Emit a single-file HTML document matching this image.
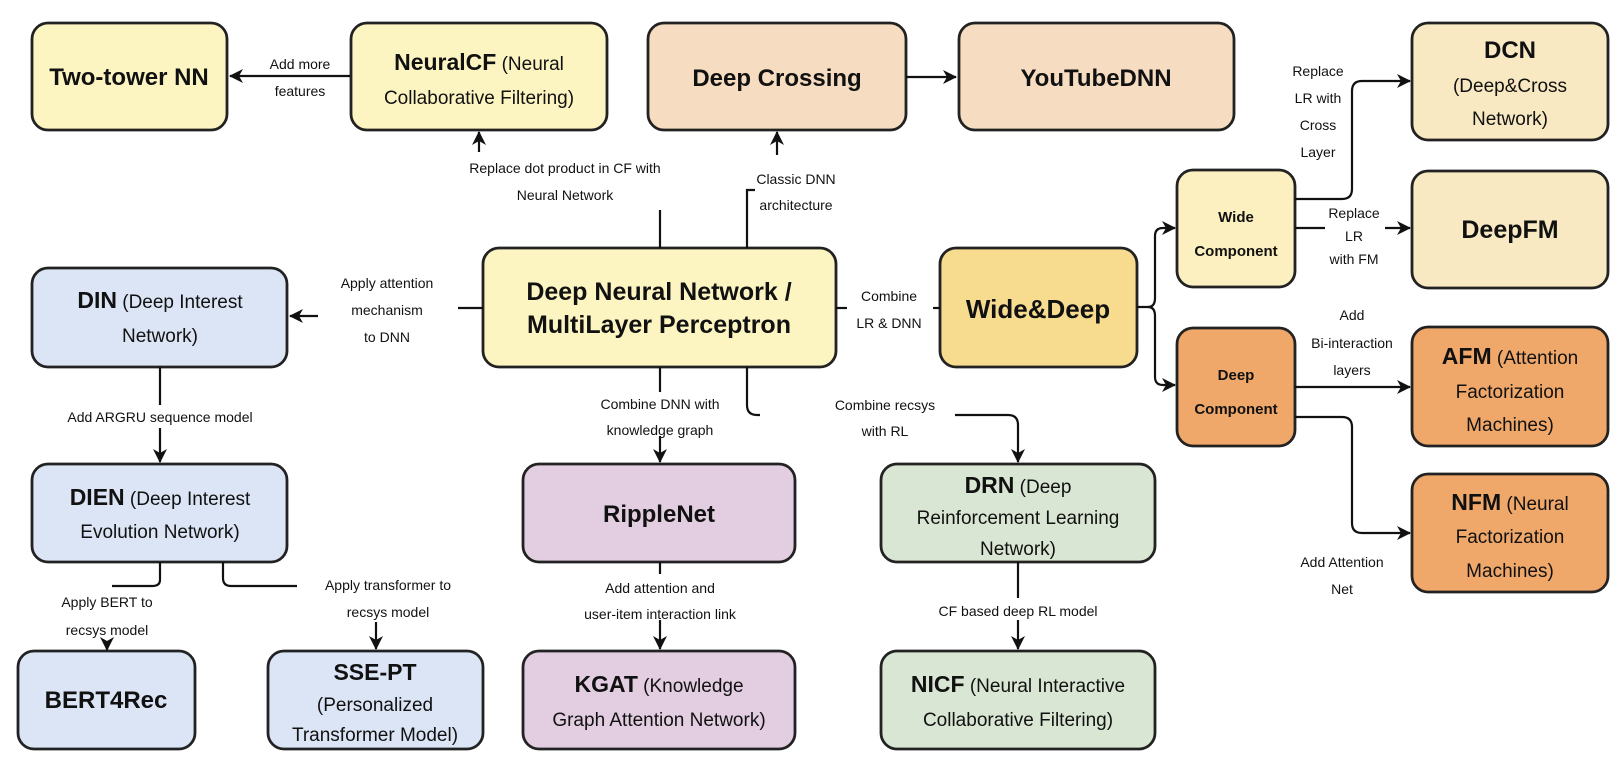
<!DOCTYPE html>
<html><head><meta charset="utf-8"><style>
html,body{margin:0;padding:0;background:#fff;}
svg{display:block;}
text{font-family:"Liberation Sans",sans-serif;fill:#111;}
.b{font-weight:bold;}
.lb{font-size:14px;}
.bx{stroke:#222;stroke-width:2.8;}
.ln{stroke:#111;stroke-width:2.2;fill:none;}
</style></head><body>
<svg width="1621" height="768" viewBox="0 0 1621 768" xmlns="http://www.w3.org/2000/svg">
<defs>
<marker id="a" markerWidth="14" markerHeight="14" refX="13" refY="7" orient="auto" markerUnits="userSpaceOnUse">
<path d="M0,0 L14,7 L0,14 L4,7 Z" fill="#111"/></marker>
</defs>
<rect class="bx" x="32" y="23" width="195" height="107" rx="16" fill="#fcf5c2"/>
<rect class="bx" x="351" y="23" width="256" height="107" rx="16" fill="#fcf5c2"/>
<rect class="bx" x="648" y="23" width="258" height="107" rx="16" fill="#f6dcc0"/>
<rect class="bx" x="959" y="23" width="275" height="107" rx="16" fill="#f6dcc0"/>
<rect class="bx" x="1412" y="23" width="196" height="117" rx="16" fill="#f8e9c2"/>
<rect class="bx" x="1177" y="170" width="118" height="117" rx="16" fill="#fcf0c0"/>
<rect class="bx" x="1412" y="171" width="196" height="117" rx="16" fill="#f8e9c2"/>
<rect class="bx" x="483" y="248" width="353" height="119" rx="16" fill="#fcf5c2"/>
<rect class="bx" x="940" y="248" width="197" height="119" rx="16" fill="#f7dc8f"/>
<rect class="bx" x="32" y="268" width="255" height="99" rx="16" fill="#dbe5f5"/>
<rect class="bx" x="1177" y="328" width="118" height="118" rx="16" fill="#efa86a"/>
<rect class="bx" x="1412" y="327" width="196" height="119" rx="16" fill="#efa86a"/>
<rect class="bx" x="1412" y="474" width="196" height="118" rx="16" fill="#efa86a"/>
<rect class="bx" x="32" y="464" width="255" height="98" rx="16" fill="#dbe5f5"/>
<rect class="bx" x="523" y="464" width="272" height="98" rx="16" fill="#e2cde1"/>
<rect class="bx" x="881" y="464" width="274" height="98" rx="16" fill="#d9e6d3"/>
<rect class="bx" x="18" y="651" width="177" height="98" rx="16" fill="#dbe5f5"/>
<rect class="bx" x="268" y="651" width="215" height="98" rx="16" fill="#dbe5f5"/>
<rect class="bx" x="523" y="651" width="272" height="98" rx="16" fill="#e2cde1"/>
<rect class="bx" x="881" y="651" width="274" height="98" rx="16" fill="#d9e6d3"/>

<g text-anchor="middle">
<text x="129" y="85" class="b" font-size="24">Two-tower NN</text>
<text x="479" y="70" font-size="19"><tspan class="b" font-size="23">NeuralCF</tspan> (Neural</text>
<text x="479" y="104" font-size="19">Collaborative Filtering)</text>
<text x="777" y="86" class="b" font-size="24">Deep Crossing</text>
<text x="1096" y="86" class="b" font-size="24">YouTubeDNN</text>
<text x="1510" y="58" class="b" font-size="24">DCN</text>
<text x="1510" y="92" font-size="19">(Deep&amp;Cross</text>
<text x="1510" y="125" font-size="19">Network)</text>
<text x="1236" y="222" class="b" font-size="15">Wide</text>
<text x="1236" y="256" class="b" font-size="15">Component</text>
<text x="1510" y="238" class="b" font-size="25">DeepFM</text>
<text x="659" y="300" class="b" font-size="25">Deep Neural Network /</text>
<text x="659" y="333" class="b" font-size="25">MultiLayer Perceptron</text>
<text x="1038" y="318" class="b" font-size="26">Wide&amp;Deep</text>
<text x="160" y="308" font-size="19"><tspan class="b" font-size="23">DIN</tspan> (Deep Interest</text>
<text x="160" y="342" font-size="19">Network)</text>
<text x="1236" y="380" class="b" font-size="15">Deep</text>
<text x="1236" y="414" class="b" font-size="15">Component</text>
<text x="1510" y="364" font-size="19"><tspan class="b" font-size="23">AFM</tspan> (Attention</text>
<text x="1510" y="398" font-size="19">Factorization</text>
<text x="1510" y="431" font-size="19">Machines)</text>
<text x="1510" y="510" font-size="19"><tspan class="b" font-size="23">NFM</tspan> (Neural</text>
<text x="1510" y="543" font-size="19">Factorization</text>
<text x="1510" y="577" font-size="19">Machines)</text>
<text x="160" y="505" font-size="19"><tspan class="b" font-size="23">DIEN</tspan> (Deep Interest</text>
<text x="160" y="538" font-size="19">Evolution Network)</text>
<text x="659" y="522" class="b" font-size="24">RippleNet</text>
<text x="1018" y="493" font-size="19"><tspan class="b" font-size="23">DRN</tspan> (Deep</text>
<text x="1018" y="524" font-size="19">Reinforcement Learning</text>
<text x="1018" y="555" font-size="19">Network)</text>
<text x="106" y="708" class="b" font-size="24">BERT4Rec</text>
<text x="375" y="680" class="b" font-size="23">SSE-PT</text>
<text x="375" y="711" font-size="19">(Personalized</text>
<text x="375" y="741" font-size="19">Transformer Model)</text>
<text x="659" y="692" font-size="19"><tspan class="b" font-size="23">KGAT</tspan> (Knowledge</text>
<text x="659" y="726" font-size="19">Graph Attention Network)</text>
<text x="1018" y="692" font-size="19"><tspan class="b" font-size="23">NICF</tspan> (Neural Interactive</text>
<text x="1018" y="726" font-size="19">Collaborative Filtering)</text>
</g>

<path class="ln" d="M350,76 L230,76" marker-end="url(#a)"/>
<path class="ln" d="M660,248 L660,210"/>
<path class="ln" d="M479,152 L479,132" marker-end="url(#a)"/>
<path class="ln" d="M747,248 L747,190 L755,190"/>
<path class="ln" d="M777,155 L777,132" marker-end="url(#a)"/>
<path class="ln" d="M906,77 L956,77" marker-end="url(#a)"/>
<path class="ln" d="M483,308 L458,308"/>
<path class="ln" d="M318,316 L290,316" marker-end="url(#a)"/>
<path class="ln" d="M836,308 L847,308"/>
<path class="ln" d="M933,308 L940,308"/>
<path class="ln" d="M1137,307 L1148,307 Q1155,307 1155,298 L1155,236 Q1155,228 1163,228 L1175,228" marker-end="url(#a)"/>
<path class="ln" d="M1148,307 Q1155,307 1155,316 L1155,377 Q1155,385 1163,385 L1175,385" marker-end="url(#a)"/>
<path class="ln" d="M1295,199 L1342,199 Q1352,199 1352,189 L1352,91 Q1352,81 1362,81 L1410,81" marker-end="url(#a)"/>
<path class="ln" d="M1295,228 L1325,228"/>
<path class="ln" d="M1385,228 L1410,228" marker-end="url(#a)"/>
<path class="ln" d="M1295,387 L1410,387" marker-end="url(#a)"/>
<path class="ln" d="M1295,417 L1342,417 Q1352,417 1352,427 L1352,523 Q1352,533 1362,533 L1410,533" marker-end="url(#a)"/>
<path class="ln" d="M660,367 L660,392"/>
<path class="ln" d="M660,436 L660,462" marker-end="url(#a)"/>
<path class="ln" d="M747,367 L747,405 Q747,415 757,415 L760,415"/>
<path class="ln" d="M955,415 L1008,415 Q1018,415 1018,425 L1018,462" marker-end="url(#a)"/>
<path class="ln" d="M1018,562 L1018,598"/>
<path class="ln" d="M1018,620 L1018,649" marker-end="url(#a)"/>
<path class="ln" d="M660,562 L660,574"/>
<path class="ln" d="M660,620 L660,649" marker-end="url(#a)"/>
<path class="ln" d="M160,367 L160,405"/>
<path class="ln" d="M160,428 L160,462" marker-end="url(#a)"/>
<path class="ln" d="M160,562 L160,580 Q160,586 152,586 L112,586"/>
<path class="ln" d="M107,641 L107,650" marker-end="url(#a)"/>
<path class="ln" d="M223,562 L223,578 Q223,586 231,586 L297,586"/>
<path class="ln" d="M376,622 L376,649" marker-end="url(#a)"/>

<g text-anchor="middle" class="lb">
<text x="300" y="69">Add more</text>
<text x="300" y="96">features</text>
<text x="565" y="173">Replace dot product in CF with</text>
<text x="565" y="200">Neural Network</text>
<text x="796" y="184">Classic DNN</text>
<text x="796" y="210">architecture</text>
<text x="387" y="288">Apply attention</text>
<text x="387" y="315">mechanism</text>
<text x="387" y="342">to DNN</text>
<text x="889" y="301">Combine</text>
<text x="889" y="328">LR &amp; DNN</text>
<text x="1318" y="76">Replace</text>
<text x="1318" y="103">LR with</text>
<text x="1318" y="130">Cross</text>
<text x="1318" y="157">Layer</text>
<text x="1354" y="218">Replace</text>
<text x="1354" y="241">LR</text>
<text x="1354" y="264">with FM</text>
<text x="1352" y="320">Add</text>
<text x="1352" y="348">Bi-interaction</text>
<text x="1352" y="375">layers</text>
<text x="1342" y="567">Add Attention</text>
<text x="1342" y="594">Net</text>
<text x="660" y="409">Combine DNN with</text>
<text x="660" y="435">knowledge graph</text>
<text x="885" y="410">Combine recsys</text>
<text x="885" y="436">with RL</text>
<text x="1018" y="616">CF based deep RL model</text>
<text x="660" y="593">Add attention and</text>
<text x="660" y="619">user-item interaction link</text>
<text x="160" y="422">Add ARGRU sequence model</text>
<text x="107" y="607">Apply BERT to</text>
<text x="107" y="635">recsys model</text>
<text x="388" y="590">Apply transformer to</text>
<text x="388" y="617">recsys model</text>
</g>
</svg>
</body></html>
